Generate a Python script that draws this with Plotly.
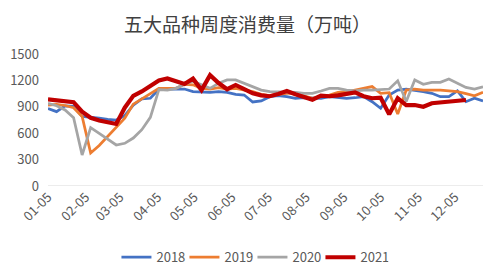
import datetime as dt
import plotly.graph_objects as go

start = dt.date(2021, 1, 5)
weeks = [start + dt.timedelta(days=7 * i) for i in range(52)]

s2018 = [880, 845, 910, 905, 790, 776, 770, 758, 750, 800, 920, 990, 997, 1100, 1100, 1100, 1102, 1072, 1064, 1064,
         1072, 1064, 1042, 1034, 955, 966, 1015, 1026, 1015, 997, 1003, 997, 997, 1015, 1003, 997, 1003, 1015, 958, 883,
         1034, 1090, 1102, 1090, 1072, 1053, 1015, 1015, 1080, 958, 997, 966]
s2019 = [920, 928, 915, 890, 790, 375, 460, 560, 660, 770, 930, 990, 1060, 1110, 1110, 1110, 1156, 1150, 1110, 1102,
         1117, 1102, 1110, 1090, 1072, 1042, 1026, 1040, 1053, 1053, 1026, 997, 1015, 1034, 1064, 1072, 1090, 1110, 1130, 1053,
         1060, 818, 1090, 1102, 1090, 1090, 1090, 1080, 1072, 1050, 1026, 1064]
s2020 = [940, 912, 864, 776, 352, 663, 598, 534, 466, 485, 545, 640, 780, 1095, 1090, 1110, 1156, 1190, 1150, 1110,
         1167, 1205, 1205, 1167, 1120, 1090, 1072, 1072, 1072, 1064, 1053, 1053, 1080, 1110, 1110, 1090, 1080, 1090, 1090, 1100,
         1102, 1195, 960, 1205, 1156, 1178, 1178, 1216, 1167, 1120, 1102, 1128]
s2021 = [985, 978, 970, 953, 845, 775, 745, 730, 705, 890, 1025, 1075, 1140, 1200, 1222, 1185, 1160, 1220, 1090, 1260,
         1170, 1100, 1148, 1100, 1053, 1030, 1020, 1045, 1080, 1042, 1015, 980, 1026, 1020, 1030, 1042, 1064, 1020, 997, 1003,
         814, 997, 920, 920, 900, 940, 951, 958, 977, 977]

years = ["2018", "2019", "2020", "2021"]
series = [s2018, s2019, s2020, s2021]
colors = ["#4472C4", "#ED7D31", "#A5A5A5", "#C00000"]
widths = [2.75, 2.75, 2.75, 4.2]

tick_dates = [dt.date(2021, m, 5) for m in range(1, 13)]
tick_text = [d.strftime("%m-%d") for d in tick_dates]
y_ticks = [0, 300, 600, 900, 1200, 1500]

fig = go.Figure()
for name, vals, c, w in zip(years, series, colors, widths):
    fig.add_trace(go.Scatter(x=weeks[:len(vals)], y=vals, name=name, mode="lines",
                             line=dict(color=c, width=w)))

font_family = "Noto Sans CJK SC, Noto Sans, sans-serif"
fig.update_layout(
    width=500, height=278,
    margin=dict(l=48, r=17, t=54, b=92, autoexpand=False),
    paper_bgcolor="white", plot_bgcolor="white",
    font=dict(family=font_family, size=13, color="#595959"),
    title=dict(text="五大品种周度消费量（万吨）", x=0.495, xanchor="center", y=0.91, yanchor="middle",
               font=dict(size=19, color="#404040", family=font_family)),
    showlegend=True,
    legend=dict(orientation="h", x=0.47, xanchor="center", y=-0.54, yanchor="middle",
                font=dict(size=13, color="#595959"), itemwidth=30, tracegroupgap=0,
                entrywidth=23, entrywidthmode="pixels"),
    xaxis=dict(type="date", range=[weeks[0], weeks[-1]], tickvals=tick_dates, ticktext=tick_text,
               tickangle=-45, showgrid=False, showline=False, zeroline=False, ticks="", automargin=False,
               tickfont=dict(size=13, color="#595959")),
    yaxis=dict(range=[0, 1500], tickvals=y_ticks, showgrid=False, zeroline=False, automargin=False,
               showline=False, ticks="", ticklabelstandoff=8, tickfont=dict(size=13, color="#595959")),
    shapes=[dict(type="line", xref="paper", yref="y", x0=0, x1=1, y0=0, y1=0,
                 line=dict(color="#D9D9D9", width=1))],
)

fig.write_html("out.html")
